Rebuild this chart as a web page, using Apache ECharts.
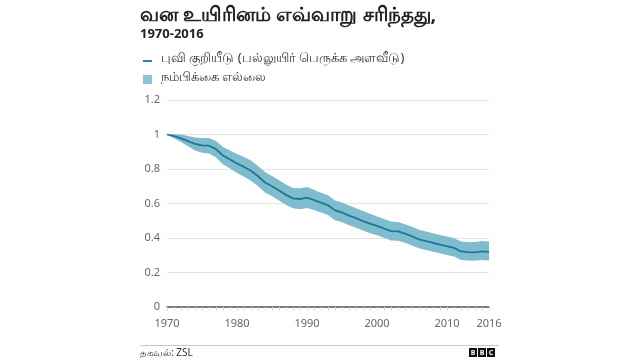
<!DOCTYPE html>
<html>
<head>
<meta charset="utf-8">
<script src="https://cdn.jsdelivr.net/npm/echarts@6/dist/echarts.min.js"></script>
<style>
html,body{margin:0;padding:0;background:#fff;}
#c{width:640px;height:360px;}
</style>
</head>
<body>
<div id="c"></div>
<script>
var years = [];
for (var y = 1970; y <= 2016; y++) years.push(String(y));

var titleText = 'வன உயிரினம் எவ்வாறு சரிந்தது,';
var subtitleText = '1970-2016';
var lineName = 'புவி குறியீடு (பல்லுயிர் பெருக்க அளவீடு)';
var bandName = 'நம்பிக்கை எல்லை';
var sourceText = 'தகவல்: ZSL';
var xTickLabels = ['1970', '1980', '1990', '2000', '2010', '2016'];

var indexValues = [
  1.000, 0.990, 0.978, 0.962, 0.945, 0.937, 0.935, 0.915, 0.878, 0.855,
  0.832, 0.812, 0.790, 0.758, 0.722, 0.700, 0.675, 0.650, 0.630, 0.626,
  0.634, 0.620, 0.605, 0.590, 0.560, 0.548, 0.530, 0.515, 0.498, 0.483,
  0.470, 0.455, 0.440, 0.438, 0.425, 0.410, 0.392, 0.382, 0.372, 0.362,
  0.353, 0.343, 0.322, 0.318, 0.317, 0.322, 0.320
];
var upperValues = [
  1.000, 1.002, 1.000, 0.992, 0.983, 0.980, 0.980, 0.963, 0.928, 0.907,
  0.887, 0.870, 0.850, 0.818, 0.782, 0.760, 0.735, 0.710, 0.690, 0.688,
  0.696, 0.680, 0.663, 0.648, 0.618, 0.606, 0.588, 0.573, 0.556, 0.540,
  0.525, 0.510, 0.495, 0.493, 0.480, 0.465, 0.448, 0.437, 0.427, 0.417,
  0.408, 0.400, 0.380, 0.377, 0.377, 0.382, 0.380
];
var lowerValues = [
  1.000, 0.978, 0.956, 0.932, 0.907, 0.894, 0.890, 0.867, 0.828, 0.803,
  0.777, 0.755, 0.732, 0.700, 0.664, 0.642, 0.617, 0.592, 0.572, 0.566,
  0.574, 0.562, 0.548, 0.533, 0.503, 0.491, 0.474, 0.459, 0.443, 0.428,
  0.416, 0.401, 0.386, 0.384, 0.372, 0.357, 0.340, 0.330, 0.320, 0.311,
  0.302, 0.293, 0.273, 0.269, 0.268, 0.272, 0.270
];

var bandWidth = upperValues.map(function (u, i) { return +(u - lowerValues[i]).toFixed(3); });

var FONT = '"Noto Sans", "Liberation Sans", Arial, sans-serif';
var bandColor = '#7fbccd';
var lineColor = '#1b7896';

var chart = echarts.init(document.getElementById('c'), null, {renderer: 'canvas'});
chart.setOption({
  animation: false,
  backgroundColor: '#fff',
  grid: {left: 167, right: 151, top: 100, bottom: 53},
  xAxis: {
    type: 'category',
    data: years,
    boundaryGap: false,
    axisLine: {show: true, lineStyle: {color: '#555', width: 1.5}},
    axisTick: {show: true, interval: 0, length: 4, lineStyle: {color: '#dcdcdc', width: 1}},
    axisLabel: {
      interval: function (idx, val) { return xTickLabels.indexOf(val) >= 0; },
      color: '#666', fontSize: 11, fontFamily: FONT, margin: 11
    },
    splitLine: {show: false}
  },
  yAxis: {
    type: 'value',
    min: 0, max: 1.2, interval: 0.2,
    axisLine: {show: false},
    axisTick: {show: false},
    axisLabel: {color: '#666', fontSize: 11, fontFamily: FONT, margin: 7,
      formatter: function (v) { return String(+v.toFixed(1)); }},
    splitLine: {lineStyle: {color: '#e4e4e4', width: 1}}
  },
  series: [
    {
      name: 'lower', type: 'line', data: lowerValues, stack: 'ci',
      symbol: 'none', lineStyle: {width: 0, opacity: 0}, areaStyle: {opacity: 0},
      silent: true, z: 1
    },
    {
      name: bandName, type: 'line', data: bandWidth, stack: 'ci',
      symbol: 'none', lineStyle: {width: 0, opacity: 0},
      areaStyle: {color: bandColor, opacity: 1},
      silent: true, z: 2
    },
    {
      name: lineName, type: 'line', data: indexValues,
      symbol: 'none', lineStyle: {color: lineColor, width: 1.8},
      z: 3
    }
  ],
  graphic: [
    {type: 'text', left: 140, top: 5, style: {text: titleText, font: 'bold 20px ' + FONT, fill: '#222'}},
    {type: 'text', left: 140, top: 28, style: {text: subtitleText, font: 'bold 13px ' + FONT, fill: '#222'}},
    {type: 'rect', shape: {x: 143, y: 60, width: 9, height: 2}, style: {fill: '#1d8aa8'}},
    {type: 'text', left: 161, top: 52, style: {text: lineName, font: '13px ' + FONT, fill: '#333'}},
    {type: 'rect', shape: {x: 143, y: 75, width: 9, height: 9}, style: {fill: '#8cc4d3'}},
    {type: 'text', left: 161, top: 71, style: {text: bandName, font: '13px ' + FONT, fill: '#333'}},
    {type: 'line', shape: {x1: 140, y1: 345.5, x2: 499, y2: 345.5}, style: {stroke: '#c8c8c8', lineWidth: 1}},
    {type: 'text', left: 140, top: 348, style: {text: sourceText, font: '10px ' + FONT, fill: '#333'}},
    {type: 'rect', shape: {x: 469, y: 348, width: 8, height: 9}, style: {fill: '#111'}},
    {type: 'rect', shape: {x: 478, y: 348, width: 8, height: 9}, style: {fill: '#111'}},
    {type: 'rect', shape: {x: 487, y: 348, width: 8, height: 9}, style: {fill: '#111'}},
    {type: 'text', x: 473, y: 352.5, style: {text: 'B', font: 'bold 7px ' + FONT, fill: '#fff', textAlign: 'center', textVerticalAlign: 'middle'}},
    {type: 'text', x: 482, y: 352.5, style: {text: 'B', font: 'bold 7px ' + FONT, fill: '#fff', textAlign: 'center', textVerticalAlign: 'middle'}},
    {type: 'text', x: 491, y: 352.5, style: {text: 'C', font: 'bold 7px ' + FONT, fill: '#fff', textAlign: 'center', textVerticalAlign: 'middle'}}
  ]
});
</script>
</body>
</html>
